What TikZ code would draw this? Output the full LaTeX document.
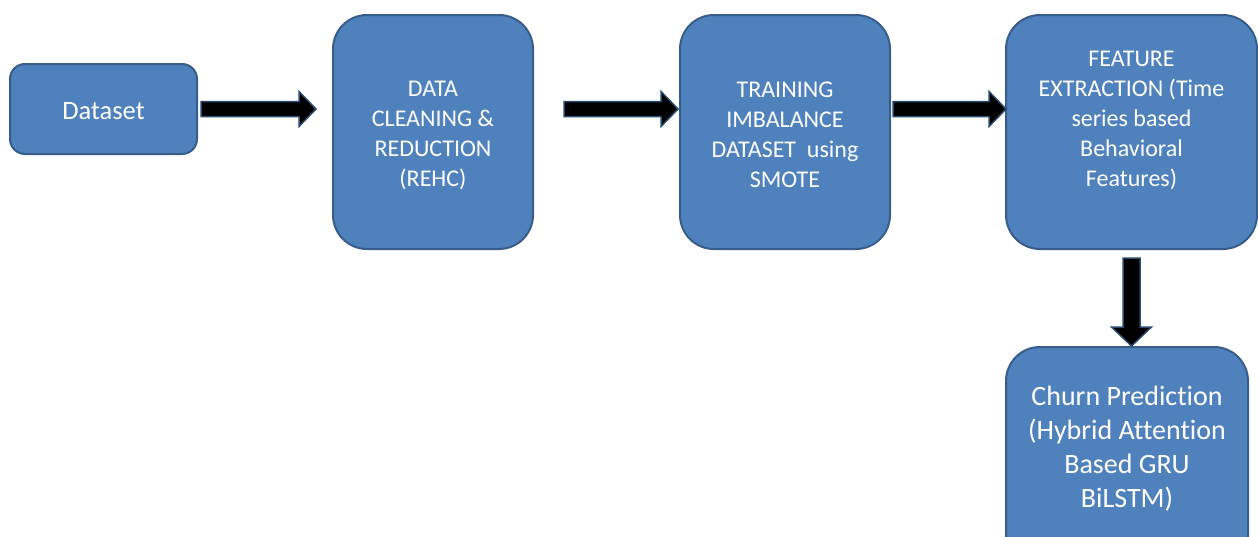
\documentclass[tikz,border=0pt]{standalone}
\usepackage{fontspec}
\setmainfont{Carlito}[Ligatures=NoCommon]
\usetikzlibrary{calc}
\definecolor{boxfill}{HTML}{4F81BD}
\definecolor{boxline}{HTML}{385D8A}
\definecolor{arrline}{HTML}{2B4A70}
\tikzset{
  box/.style={draw=boxline, line width=2pt, fill=boxfill, text=white, align=center, inner sep=0pt},
  txt/.style={text=white, align=center, inner sep=0pt},
  barrow/.style={fill=black, draw=arrline, line width=1.5pt, line join=miter}
}
% horizontal block arrow from #1 to #2 (tip)
\newcommand{\hblock}[2]{%
  \draw[barrow] ($(#1)+(0,-7.5)$) -- ($(#2)+(-17,-7.5)$) -- ($(#2)+(-17,-17.5)$) -- (#2)
     -- ($(#2)+(-17,17.5)$) -- ($(#2)+(-17,7.5)$) -- ($(#1)+(0,7.5)$) -- cycle;}
% vertical (downward) block arrow from #1 to #2 (tip)
\newcommand{\vblock}[2]{%
  \draw[barrow] ($(#1)+(-8.5,0)$) -- ($(#2)+(-8.5,-19)$) -- ($(#2)+(-20,-19)$) -- (#2)
     -- ($(#2)+(20,-19)$) -- ($(#2)+(8.5,-19)$) -- ($(#1)+(8.5,0)$) -- cycle;}
\begin{document}
\begin{tikzpicture}[x=1pt,y=-1pt]
\useasboundingbox (0,0) rectangle (1258,536);
\clip (0,0) rectangle (1258,536);
% boxes
\node[box, rounded corners=15pt, minimum width=187pt, minimum height=90pt] (data) at (103.5,109) {};
\node[txt, font=\fontsize{26.5}{32}\selectfont] (datatxt) at (103.5,111) {Dataset};
\node[box, rounded corners=34pt, minimum width=200pt, minimum height=234pt] (clean) at (433,132) {};
\node[txt, font=\fontsize{24}{30}\selectfont] (cleantxt) at (433,135)
      {DATA\\CLEANING \&\\REDUCTION\\(REHC)};
\node[box, rounded corners=34pt, minimum width=210pt, minimum height=234pt] (train) at (785,132) {};
\node[txt, font=\fontsize{24}{30}\selectfont] (traintxt) at (785,135)
      {TRAINING\\IMBALANCE\\DATASET\ \ using\\SMOTE};
\node[box, rounded corners=34pt, minimum width=251pt, minimum height=234pt] (feat) at (1131.5,132) {};
\node[txt, font=\fontsize{24}{30}\selectfont] (feattxt) at (1131.5,120)
      {FEATURE\\EXTRACTION (Time\\series based\\Behavioral\\Features)};
\node[box, rounded corners=34pt, minimum width=242pt, minimum height=234pt] (churn) at (1127,464) {};
\node[txt, font=\fontsize{28}{34}\selectfont] (churntxt) at (1127,449)
      {Churn Prediction\\(Hybrid Attention\\Based GRU\\BiLSTM)};
% arrows
\coordinate (a1s) at ($(data.east)+(3,0)$);
\coordinate (a1e) at ($(clean.west|-data.east)+(-16,0)$);
\coordinate (a2s) at ($(clean.east|-data.east)+(30,0)$);
\coordinate (a2e) at ($(train.west|-data.east)+(-1,0)$);
\coordinate (a3s) at ($(train.east|-data.east)+(2,0)$);
\coordinate (a3e) at ($(feat.west|-data.east)+(1,0)$);
\coordinate (a4s) at ($(feat.south)+(0,8)$);
\coordinate (a4e) at (feat.south|-churn.north);
\hblock{a1s}{a1e}
\hblock{a2s}{a2e}
\hblock{a3s}{a3e}
\vblock{a4s}{a4e}
\end{tikzpicture}
\end{document}
